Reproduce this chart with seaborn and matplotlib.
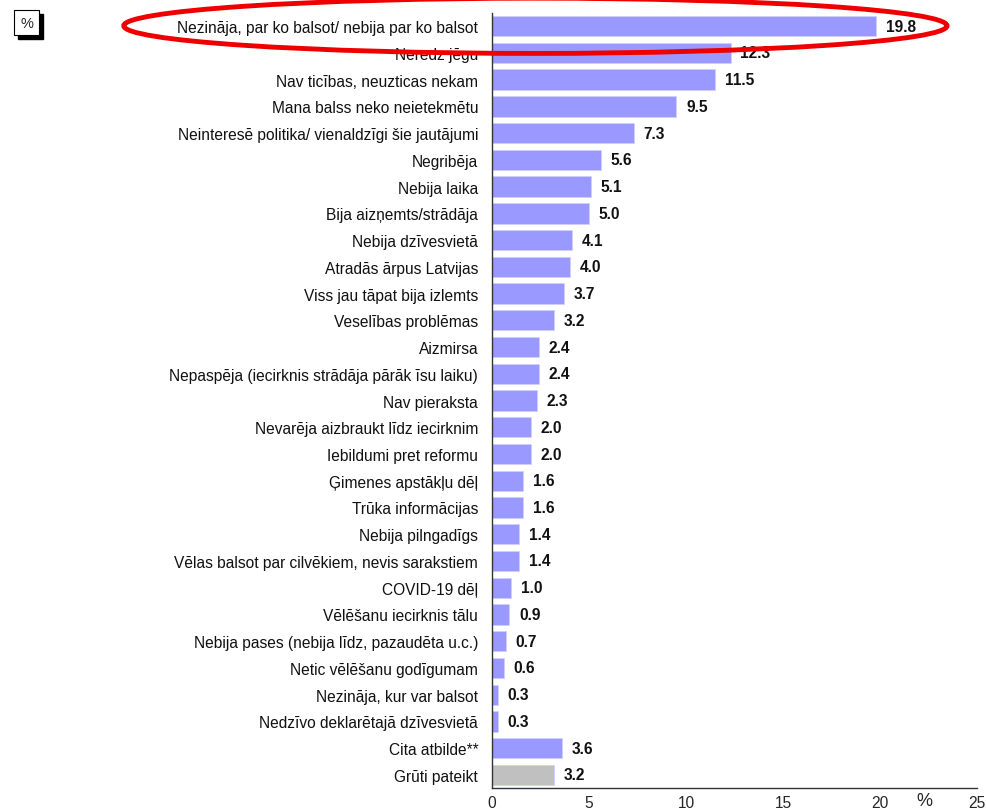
import numpy as np
import pandas as pd
import seaborn as sns
import matplotlib.pyplot as plt
from matplotlib.patches import Ellipse, Rectangle

# dati
reasons = [
    "Nezināja, par ko balsot/ nebija par ko balsot",
    "Neredz jēgu",
    "Nav ticības, neuzticas nekam",
    "Mana balss neko neietekmētu",
    "Neinteresē politika/ vienaldzīgi šie jautājumi",
    "Negribēja",
    "Nebija laika",
    "Bija aizņemts/strādāja",
    "Nebija dzīvesvietā",
    "Atradās ārpus Latvijas",
    "Viss jau tāpat bija izlemts",
    "Veselības problēmas",
    "Aizmirsa",
    "Nepaspēja (iecirknis strādāja pārāk īsu laiku)",
    "Nav pieraksta",
    "Nevarēja aizbraukt līdz iecirknim",
    "Iebildumi pret reformu",
    "Ģimenes apstākļu dēļ",
    "Trūka informācijas",
    "Nebija pilngadīgs",
    "Vēlas balsot par cilvēkiem, nevis sarakstiem",
    "COVID-19 dēļ",
    "Vēlēšanu iecirknis tālu",
    "Nebija pases (nebija līdz, pazaudēta u.c.)",
    "Netic vēlēšanu godīgumam",
    "Nezināja, kur var balsot",
    "Nedzīvo deklarētajā dzīvesvietā",
    "Cita atbilde**",
    "Grūti pateikt",
]
values = [19.8, 12.3, 11.5, 9.5, 7.3, 5.6, 5.1, 5.0, 4.1, 4.0, 3.7, 3.2, 2.4, 2.4,
          2.3, 2.0, 2.0, 1.6, 1.6, 1.4, 1.4, 1.0, 0.9, 0.7, 0.6, 0.3, 0.3, 3.6, 3.2]
groups = ["main"] * 28 + ["dk"]
x_ticks = [0, 5, 10, 15, 20, 25]

df = pd.DataFrame({"reason": reasons, "value": values, "group": groups})

sns.set_style("white")
plt.rcParams['font.family'] = ['Liberation Sans', 'DejaVu Sans']

fig = plt.figure(figsize=(9.86, 8.12), dpi=100)
ax = fig.add_axes([0.499, 0.028, 0.492, 0.955])

sns.barplot(data=df, x="value", y="reason", hue="group",
            palette={"main": "#9999FF", "dk": "#C0C0C0"}, saturation=1,
            width=0.76, dodge=False, legend=False, ax=ax,
            edgecolor="#D0D0FF", linewidth=0.6)

for cont in ax.containers:
    ax.bar_label(cont, fmt="%.1f", padding=7, fontsize=11.2,
                 fontweight="bold", color="#111111")

ax.set_xlim(0, 25)
ax.set_ylim(len(reasons) - 0.5, -0.5)
ax.set_xticks(x_ticks)
ax.set_xticklabels([str(t) for t in x_ticks], fontsize=11.2)
ax.tick_params(axis="y", which="major", length=0, labelsize=11.2, pad=10,
               labelcolor="#111111")
ax.set_yticks(np.arange(-0.5, len(reasons)), minor=True)
ax.tick_params(axis="y", which="minor", length=4, color="#333333", width=1)
ax.tick_params(axis="x", length=4, color="#333333", width=1, pad=1)
ax.set_xlabel("")
ax.set_ylabel("")
for s in ["top", "right"]:
    ax.spines[s].set_visible(False)
for s in ["left", "bottom"]:
    ax.spines[s].set_color("#333333")
    ax.spines[s].set_linewidth(1)

# % pie ass
fig.text(0.938, 0.0125, "%", fontsize=13, ha="center", va="center")

# % kaste augšā kreisajā stūrī
fig.patches.append(Rectangle((0.018, 0.951), 0.026, 0.030, transform=fig.transFigure,
                             facecolor="black", edgecolor="black", zorder=1))
fig.patches.append(Rectangle((0.014, 0.956), 0.026, 0.030, transform=fig.transFigure,
                             facecolor="white", edgecolor="black", linewidth=0.8, zorder=2))
fig.text(0.027, 0.971, "%", fontsize=10.5, ha="center", va="center", zorder=3)

# sarkanā elipse
fig.patches.append(Ellipse((0.543, 0.967), 0.835, 0.068, transform=fig.transFigure,
                           fill=False, edgecolor="#EE0000", linewidth=3.5, zorder=10))

fig.savefig("out.png", dpi=100)
